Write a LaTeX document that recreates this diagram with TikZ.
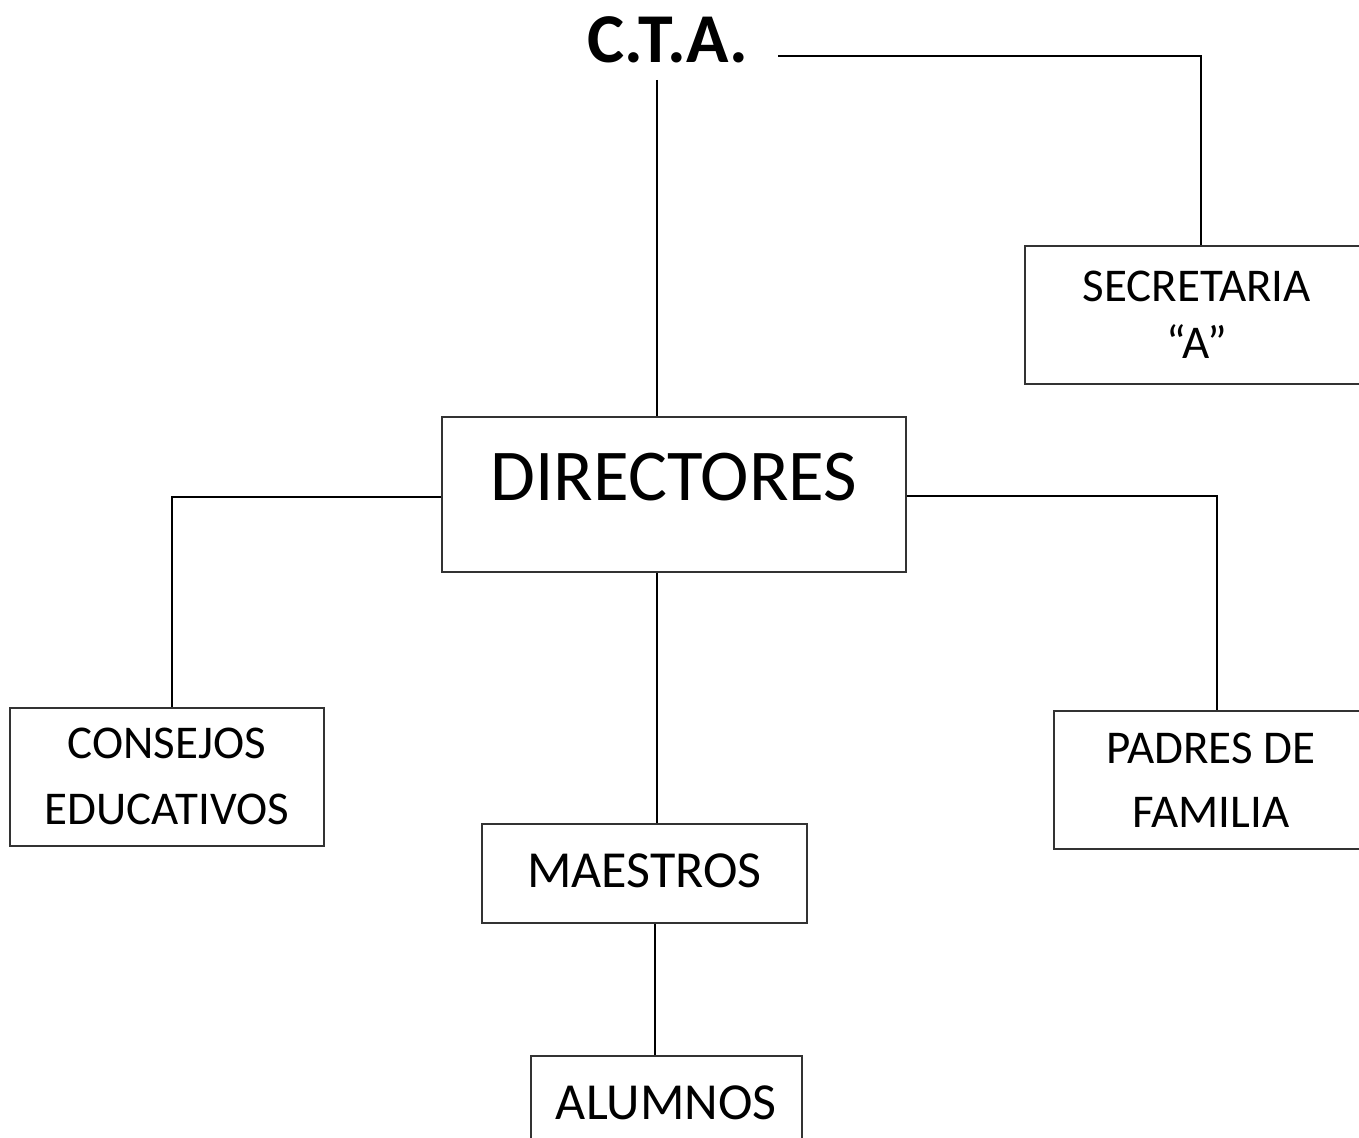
\documentclass[tikz,border=0pt]{standalone}
\usepackage{fontspec}
\setmainfont{Carlito}
\usetikzlibrary{positioning}

\tikzset{
  caja/.style={draw=black!80, line width=1.5pt, align=center, inner sep=0pt,
    font=\fontsize{47}{65}\selectfont},
  linea/.style={line width=1.8pt}
}

\begin{document}
\begin{tikzpicture}[x=1pt,y=-1pt]
  \useasboundingbox (0,0) rectangle (1359,1137);
  \clip (0,0) rectangle (1359,1137);
  \node[font=\fontsize{70}{80}\selectfont\bfseries] (cta) at (668,40) {C.T.A.};
  \node[caja, minimum width=464pt, minimum height=155pt, font=\fontsize{73}{80}\selectfont,
    text depth=0pt, anchor=north west] (dir) at (441,416) {\raisebox{34pt}{DIRECTORES}};
  \node[caja, minimum width=344pt, minimum height=138pt, font=\fontsize{47}{57}\selectfont,
    anchor=north west] (sec) at (1024,245) {SECRETARIA\\``A''};
  \node[caja, minimum width=314pt, minimum height=138pt, anchor=north west] (cons) at (9,707) {\raisebox{-2pt}{CONSEJOS}\\\raisebox{-3pt}{EDUCATIVOS}};
  \node[caja, minimum width=314pt, minimum height=138pt, anchor=north west] (pad) at (1053,710) {\raisebox{-4pt}{PADRES DE}\\\raisebox{-3pt}{FAMILIA}};
  \node[caja, minimum width=325pt, minimum height=99pt, font=\fontsize{52}{60}\selectfont,
    anchor=north west] (mae) at (481,823) {\raisebox{6pt}{MAESTROS}};
  \node[caja, minimum width=271pt, minimum height=95pt, font=\fontsize{52}{60}\selectfont,
    anchor=north west] (alu) at (530,1055) {ALUMNOS};

  \coordinate (ctaR) at (778,56);
  \coordinate (ctaB) at (657,80);
  \draw[linea] (ctaR) -| (sec.north -| 1201,0);
  \draw[linea] (ctaB) -- (ctaB |- dir.north);
  \draw[linea] ([yshift=-81pt]dir.north west) -| (cons.north -| 172,0);
  \draw[linea] ([yshift=-80pt]dir.north east) -| (pad.north -| 1217,0);
  \draw[linea] (dir.south -| ctaB) -- (mae.north -| ctaB);
  \draw[linea] (mae.south -| 655,0) -- (alu.north -| 655,0);
\end{tikzpicture}
\end{document}
